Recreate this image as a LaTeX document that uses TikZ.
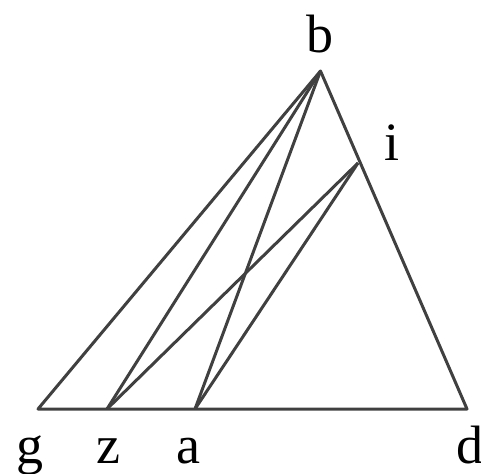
\documentclass[tikz,border=0pt]{standalone}
\usepackage{fontspec}
\setmainfont{Liberation Serif}
\usetikzlibrary{calc,positioning}

\begin{document}
\begin{tikzpicture}[x=0.5pt,y=-0.5pt,font=\fontsize{27}{30}\selectfont,
  every node/.style={inner sep=0pt,anchor=base},
  seg/.style={black!75,line width=1.5pt,line join=round}]
  \useasboundingbox (0,0) rectangle (481,473);
  \coordinate (b) at (320.5,71);
  \coordinate (g) at (38,409);
  \coordinate (d) at (467,409);
  \coordinate (z) at (107,409);
  \coordinate (a) at (195,409);
  \coordinate (i) at (358,163);
  \node (lb) at (320,52) {b};
  \node (li) at (392,160) {i};
  \node (lg) at (30,463) {g};
  \node (lz) at (108,463) {z};
  \node (la) at (188,463) {a};
  \node (ld) at (470,463) {d};
  \draw[seg] (g)--(b)--(d)--cycle;
  \draw[seg] (b)--(z); \draw[seg] (b)--(a);
  \draw[seg] (i)--(z); \draw[seg] (i)--(a);
\end{tikzpicture}
\end{document}
